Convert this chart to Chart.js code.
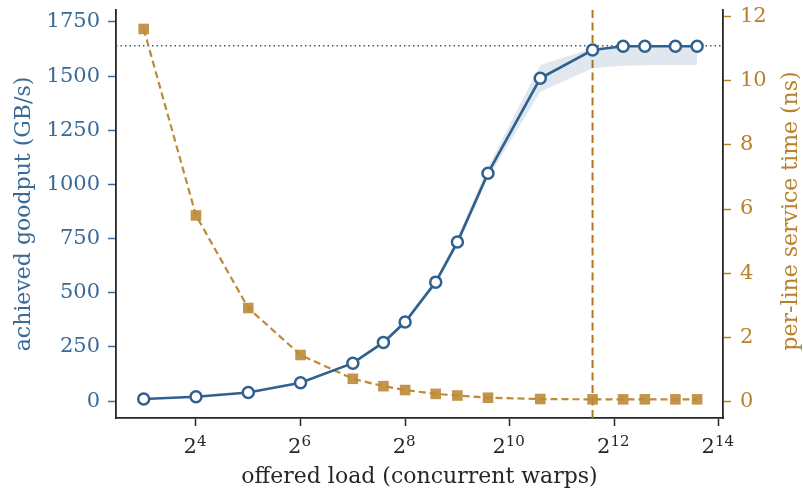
<!DOCTYPE html>
<html>
<head>
<meta charset="utf-8">
<script src="https://cdn.jsdelivr.net/npm/chart.js@4.4.1/dist/chart.umd.min.js"></script>
<style>
  html, body { margin: 0; padding: 0; background: #fff; }
  #wrap { width: 803px; height: 490px; }
</style>
</head>
<body>
<div id="wrap"><canvas id="chart" width="803" height="490"></canvas></div>
<script>
// Offered load (concurrent warps)
const loads = [8, 16, 32, 64, 128, 192, 256, 384, 512, 768, 1536, 3072, 4608, 6144, 9216, 12288];

// Achieved goodput (GB/s) with spread band
const goodput   = [10, 20, 40, 85, 175, 271, 365, 549, 734, 1052, 1490, 1620, 1638, 1638, 1638, 1638];
const goodputLo = [9, 19, 38, 82, 170, 262, 355, 535, 715, 1030, 1428, 1536, 1548, 1550, 1551, 1551];
const goodputHi = [11, 21, 42, 88, 180, 280, 375, 565, 755, 1080, 1551, 1628, 1640, 1640, 1640, 1640];

// Per-line service time (ns)
const serviceTime = [11.6, 5.8, 2.92, 1.46, 0.72, 0.49, 0.37, 0.25, 0.2, 0.13, 0.09, 0.08, 0.08, 0.08, 0.08, 0.08];

// Reference lines
const peakGoodput = 1640;
const kneeLoad = 3072;

// Tick labels
const xTickExps = [4, 6, 8, 10, 12, 14];
const leftTicks = [0, 250, 500, 750, 1000, 1250, 1500, 1750];
const rightTicks = [0, 2, 4, 6, 8, 10, 12];

const BLUE = '#30608f';
const BLUE_TEXT = '#3a6a98';
const ORANGE = '#bd8a38';
const ORANGE_TEXT = '#b8812c';
const KNEE = '#b5761c';
const FONT = "'DejaVu Serif', serif";

const pts = (ys) => loads.map((x, i) => ({ x: x, y: ys[i] }));

// Dotted peak line + dashed knee line
const refLines = {
  id: 'refLines',
  beforeDatasetsDraw(chart) {
    const { ctx, chartArea, scales } = chart;
    ctx.save();
    const y = scales.y.getPixelForValue(peakGoodput);
    ctx.strokeStyle = BLUE;
    ctx.lineWidth = 1.4;
    ctx.setLineDash([1.5, 3]);
    ctx.beginPath();
    ctx.moveTo(chartArea.left, y);
    ctx.lineTo(chartArea.right, y);
    ctx.stroke();

    const x = scales.x.getPixelForValue(kneeLoad);
    ctx.strokeStyle = KNEE;
    ctx.lineWidth = 2;
    ctx.setLineDash([8, 4.5]);
    ctx.beginPath();
    ctx.moveTo(x, chartArea.top);
    ctx.lineTo(x, chartArea.bottom);
    ctx.stroke();
    ctx.restore();
  }
};

// Power-of-two x tick labels and rotated y titles
const axisText = {
  id: 'axisText',
  afterDraw(chart) {
    const { ctx, scales, chartArea } = chart;
    const xs = scales.x;
    ctx.save();
    ctx.fillStyle = '#262626';
    ctx.textBaseline = 'alphabetic';
    ctx.textAlign = 'left';
    xTickExps.forEach(e => {
      const px = xs.getPixelForValue(Math.pow(2, e));
      ctx.font = '21px ' + FONT;
      const bw = ctx.measureText('2').width;
      ctx.font = '15px ' + FONT;
      const ew = ctx.measureText(String(e)).width;
      const start = px - (bw + ew) / 2 - 1;
      ctx.font = '21px ' + FONT;
      ctx.fillText('2', start, 453);
      ctx.font = '15px ' + FONT;
      ctx.fillText(String(e), start + bw, 446);
    });

    const cy = (chartArea.top + chartArea.bottom) / 2;
    ctx.font = '22px ' + FONT;
    ctx.textAlign = 'center';
    ctx.textBaseline = 'middle';

    ctx.save();
    ctx.translate(24, cy);
    ctx.rotate(-Math.PI / 2);
    ctx.fillStyle = BLUE_TEXT;
    ctx.fillText('achieved goodput (GB/s)', 0, 0);
    ctx.restore();

    ctx.save();
    ctx.translate(791, cy - 3);
    ctx.rotate(-Math.PI / 2);
    ctx.fillStyle = ORANGE_TEXT;
    ctx.fillText('per-line service time (ns)', 0, 0);
    ctx.restore();

    ctx.restore();
  }
};

const noPad = (s) => { s.paddingTop = 0; s.paddingBottom = 0; s.paddingLeft = 0; s.paddingRight = 0; };

new Chart(document.getElementById('chart'), {
  type: 'line',
  data: {
    datasets: [
      {
        label: 'band low',
        data: pts(goodputLo),
        yAxisID: 'y',
        borderWidth: 0,
        pointRadius: 0,
        fill: false,
        order: 5
      },
      {
        label: 'band high',
        data: pts(goodputHi),
        yAxisID: 'y',
        borderWidth: 0,
        pointRadius: 0,
        backgroundColor: 'rgba(48, 96, 143, 0.15)',
        fill: '-1',
        order: 4
      },
      {
        label: 'per-line service time',
        data: pts(serviceTime),
        yAxisID: 'y1',
        borderColor: ORANGE,
        borderWidth: 2.2,
        borderDash: [7, 4],
        pointStyle: 'rect',
        pointRadius: 7.5,
        pointBackgroundColor: 'rgba(189, 138, 56, 0.9)',
        pointBorderWidth: 0,
        fill: false,
        order: 2
      },
      {
        label: 'achieved goodput',
        data: pts(goodput),
        yAxisID: 'y',
        borderColor: BLUE,
        borderWidth: 2.6,
        pointRadius: 5.5,
        pointBackgroundColor: '#fff',
        pointBorderColor: BLUE,
        pointBorderWidth: 2.5,
        fill: false,
        order: 1
      }
    ]
  },
  options: {
    responsive: false,
    animation: false,
    devicePixelRatio: 1,
    layout: { padding: { top: 10, right: 0, left: 0, bottom: 0 } },
    plugins: {
      legend: { display: false },
      tooltip: { enabled: false }
    },
    scales: {
      x: {
        type: 'logarithmic',
        min: Math.pow(2, 2.47),
        max: Math.pow(2, 14.08),
        afterBuildTicks: (s) => { s.ticks = xTickExps.map(e => ({ value: Math.pow(2, e) })); },
        ticks: { callback: () => '', font: { family: FONT, size: 21 } },
        grid: { display: true, drawOnChartArea: false, tickLength: 8, tickWidth: 1.5, tickColor: '#262626' },
        border: { display: true, color: '#262626', width: 1.8 },
        title: {
          display: true,
          text: 'offered load (concurrent warps)',
          color: '#262626',
          font: { family: FONT, size: 22 },
          padding: { top: 0, bottom: 0 }
        },
        afterFit: (s) => { noPad(s); s.height = 72; }
      },
      y: {
        position: 'left',
        min: -78,
        max: 1805,
        afterBuildTicks: (s) => { s.ticks = leftTicks.map(v => ({ value: v })); },
        ticks: { color: BLUE_TEXT, padding: 8, font: { family: FONT, size: 21 }, callback: (v) => String(v) },
        grid: { display: true, drawOnChartArea: false, tickLength: 8, tickWidth: 1.5, tickColor: BLUE_TEXT },
        border: { display: true, color: '#262626', width: 1.8 },
        afterFit: (s) => { noPad(s); s.width = 116; }
      },
      y1: {
        position: 'right',
        min: -0.5,
        max: 12.19,
        afterBuildTicks: (s) => { s.ticks = rightTicks.map(v => ({ value: v })); },
        ticks: { color: ORANGE_TEXT, padding: 9, font: { family: FONT, size: 21 }, callback: (v) => String(v) },
        grid: { display: true, drawOnChartArea: false, tickLength: 8, tickWidth: 1.5, tickColor: ORANGE_TEXT },
        border: { display: true, color: '#262626', width: 1.8 },
        afterFit: (s) => { noPad(s); s.width = 80; }
      }
    }
  },
  plugins: [refLines, axisText]
});
</script>
</body>
</html>
